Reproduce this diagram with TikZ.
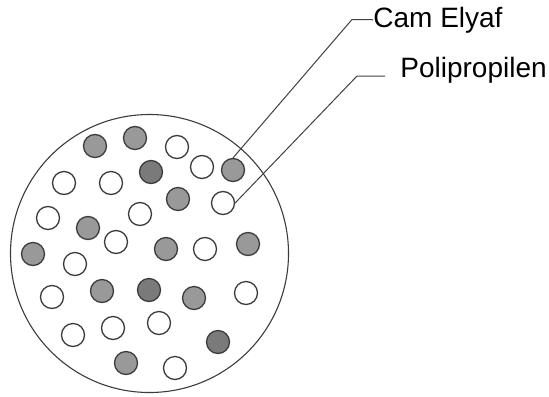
\documentclass[tikz,border=0pt]{standalone}
\usepackage{fontspec}
\setmainfont{Liberation Sans}
\definecolor{fibgray}{HTML}{999999}
\definecolor{fibdark}{HTML}{7A7A7A}
\definecolor{edgegray}{HTML}{3C3C3C}
\tikzset{
  fiber/.style={circle, draw=edgegray, line width=0.65pt, minimum size=11.5pt, inner sep=0pt},
  cam/.style={fiber, fill=fibgray},
  camdark/.style={fiber, fill=fibdark},
  pp/.style={fiber, fill=white},
  lead/.style={draw=black!75, line width=0.5pt},
  lbl/.style={inner sep=0pt, font=\fontsize{14}{16}\selectfont}
}
\begin{document}
\begin{tikzpicture}[x=0.5pt, y=-0.5pt]
\useasboundingbox (0,0) rectangle (549,396);

\node[circle, draw=edgegray, line width=0.55pt, minimum size=139pt, inner sep=0pt] (disk) at (149.5,253.5) {};

\foreach \n/\px/\py/\kind in {
  1/95/146/cam, 2/135/138/cam, 3/177/147/pp, 4/202/167/pp, 5/233/170/cam,
  6/151/172/camdark, 7/64/183/pp, 8/111/183/pp, 9/178/199/cam, 10/223/203/pp,
  11/48/218/pp, 12/140/214/pp, 13/88/228/cam, 14/116/242/pp, 15/33/254/cam,
  16/166/249/cam, 17/205/249/pp, 18/248/244/cam, 19/75/264/pp, 20/52/297/pp,
  21/102/291/cam, 22/149/290/camdark, 23/194/298/cam, 24/246/293/pp, 25/73/335/pp,
  26/113/328/pp, 27/159/323/pp, 28/218/342/camdark, 29/126/363/cam, 30/175/368/pp}
  \node[\kind] (f\n) at (\px,\py) {};

\node[lbl, anchor=base west] (camlbl) at (373,27) {Cam Elyaf};
\node[lbl, anchor=base west] (pplbl) at (400,77) {Polipropilen};

\coordinate (camK) at (352,19.5);
\coordinate (ppK) at (357,76);
\coordinate (ppE) at (385,76);

\draw[lead] (f5.north) -- (camK) -- (camlbl.west);
\draw[lead] (f10.east) -- (ppK) -- (ppE);
\end{tikzpicture}
\end{document}
